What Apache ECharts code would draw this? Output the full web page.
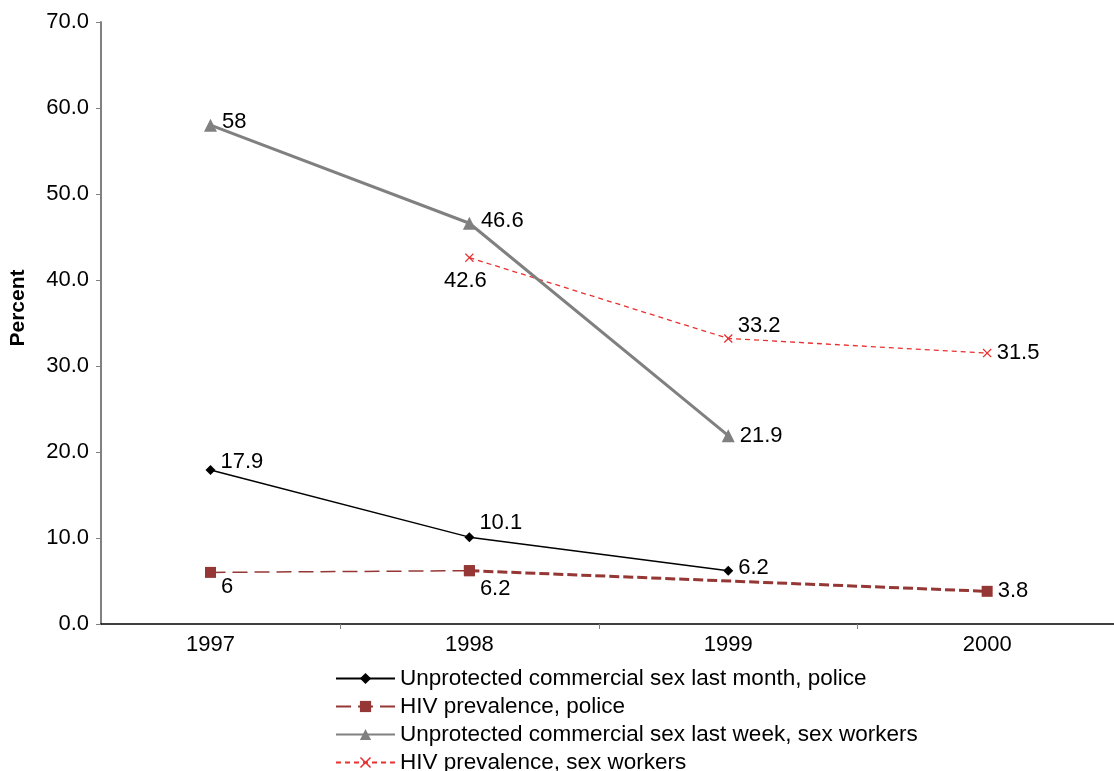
<!DOCTYPE html>
<html>
<head>
    <meta charset="utf-8"/>
    <title>ECharts</title>
    <script src="https://cdn.jsdelivr.net/npm/echarts@6/dist/echarts.min.js"></script>
</head>
<body style="margin:0">
<div id="main" style="width: 1114px; height: 771px"></div>
<script type="text/javascript">
    // values
    var years = [1997, 1998, 1999, 2000];
    var unprotPolice = [17.9, 10.1, 6.2, null];
    var hivPolice = [6, 6.2, null, 3.8];
    var unprotWorkers = [58, 46.6, 21.9, null];
    var hivWorkers = [null, 42.6, 33.2, 31.5];
    var yTicks = [0, 10, 20, 30, 40, 50, 60, 70];

    var names = [
        'Unprotected commercial sex last month, police',
        'HIV prevalence, police',
        'Unprotected commercial sex last week, sex workers',
        'HIV prevalence, sex workers'
    ];

    var font = 'Liberation Sans, Arial, sans-serif';
    var fs = 22;
    var xMark = 'path://M1,0L5,4L9,0L10,1L6,5L10,9L9,10L5,6L1,10L0,9L4,5L0,1Z';

    // pair years with values, drop the gaps; labels get per-point placement
    function pairs(vals, from, to, labels) {
        var out = [];
        for (var i = from; i <= to; i++) {
            if (vals[i] == null) continue;
            var item = { value: [years[i], vals[i]] };
            if (labels) item.label = labels[i];
            out.push(item);
        }
        return out;
    }

    var lbl = { show: true, position: 'right', distance: 5, color: '#000', fontSize: fs, fontFamily: font };

    var myChart = echarts.init(document.getElementById("main"));
    var option = {
        animation: false,
        grid: { left: 100, right: 0, top: 22, bottom: 147 },
        legend: {
            orient: 'vertical',
            left: 335,
            top: 667,
            height: 140,
            padding: 0,
            itemWidth: 59,
            itemHeight: 14,
            itemGap: 5,
            textStyle: { fontSize: 22.5, color: '#000', fontFamily: font },
            data: names
        },
        xAxis: {
            type: 'value',
            min: 1996.577,
            max: 2000.49,
            splitLine: { show: false },
            axisLine: { lineStyle: { color: '#000', width: 1.5 } },
            axisTick: { show: true, length: 5, customValues: [1997.5, 1998.5, 1999.5], lineStyle: { color: '#808080' } },
            axisLabel: {
                customValues: years,
                formatter: function (v) { return String(Math.round(v)); },
                margin: 10, fontSize: fs, color: '#000', fontFamily: font
            }
        },
        yAxis: {
            type: 'value',
            min: 0, max: 70, interval: 10,
            name: 'Percent',
            nameLocation: 'middle',
            nameGap: 72,
            nameRotate: 90,
            nameTextStyle: { fontSize: 21, fontWeight: 'bold', color: '#000', fontFamily: font, padding: [0, 0, 0, 30] },
            splitLine: { show: false },
            axisLine: { show: true, lineStyle: { color: '#808080', width: 2 } },
            axisTick: { show: true, length: 5, lineStyle: { color: '#808080' } },
            axisLabel: {
                margin: 12, fontSize: fs, color: '#000', fontFamily: font,
                formatter: function (v) { return yTicks.indexOf(v) >= 0 ? v.toFixed(1) : ''; }
            }
        },
        series: [
            {
                name: names[0], type: 'line',
                data: pairs(unprotPolice, 0, 3, [
                    { offset: [0, -8] }, { offset: [0, -14] }, { offset: [0, -3] }
                ]),
                symbol: 'diamond', symbolSize: 10,
                itemStyle: { color: '#000' },
                lineStyle: { color: '#000', width: 1.5 },
                label: lbl, z: 4
            },
            {
                name: names[1], type: 'line',
                data: pairs(hivPolice, 0, 1, [{ offset: [0, 15] }, { offset: [0, 18] }]),
                symbol: 'rect', symbolSize: 11,
                itemStyle: { color: '#953735' },
                lineStyle: { color: '#953735', width: 1.5, type: [15, 7] },
                label: lbl, z: 3
            },
            {
                // 1998 to 2000 segment, drawn heavier across the missing 1999 value
                name: names[1], type: 'line',
                data: pairs(hivPolice, 1, 3, [{}, { show: false }, {}, {}]),
                connectNulls: true,
                symbol: 'rect', symbolSize: 11,
                itemStyle: { color: '#953735' },
                lineStyle: { color: '#953735', width: 3, type: [10, 4] },
                label: lbl, z: 3
            },
            {
                name: names[2], type: 'line',
                data: pairs(unprotWorkers, 0, 3, [
                    { offset: [0, -3] }, { offset: [0, -2] }, { offset: [0, 0] }
                ]),
                symbol: 'triangle', symbolSize: 13,
                itemStyle: { color: '#808080' },
                lineStyle: { color: '#808080', width: 3 },
                label: lbl, z: 2
            },
            {
                name: names[3], type: 'line',
                data: pairs(hivWorkers, 0, 3, [
                    {}, { position: 'bottom', distance: 8, offset: [-4, 0] }, { offset: [0, -13] }, {}
                ]),
                symbol: xMark, symbolSize: 9,
                itemStyle: { color: '#e83030' },
                lineStyle: { color: '#e83030', width: 1.3, type: [5, 4] },
                label: lbl, z: 1
            }
        ]
    };
    myChart.setOption(option);
</script>
</body>
</html>
